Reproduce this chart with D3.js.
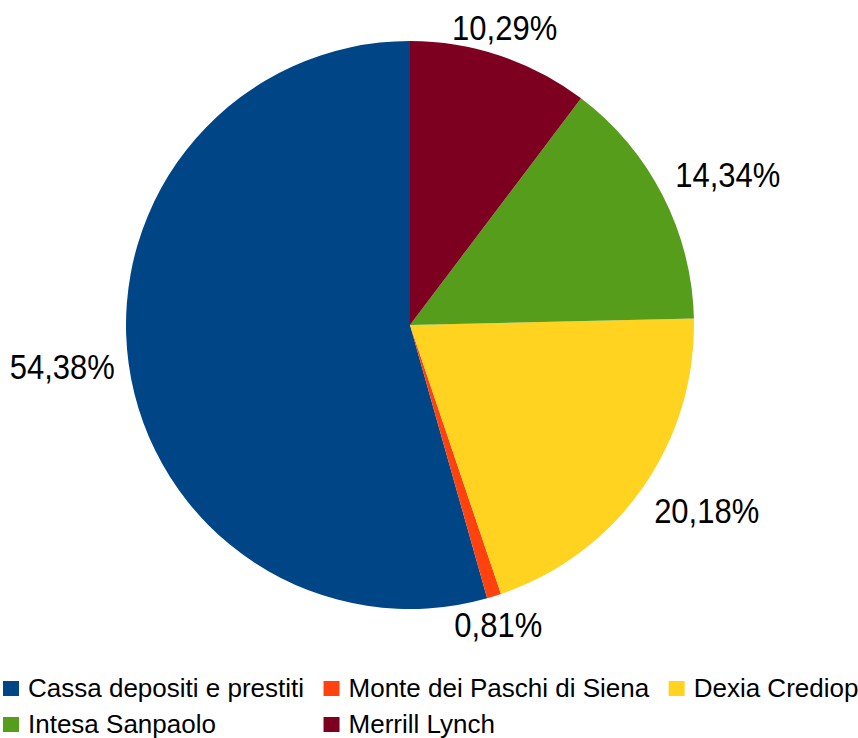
<!DOCTYPE html>
<html>
<head>
<meta charset="utf-8">
<script src="https://cdn.jsdelivr.net/npm/d3@7"></script>
<style>
  html, body { margin: 0; padding: 0; background: #fff; }
  svg { display: block; }
  text { font-family: "Liberation Sans", Arial, sans-serif; fill: #000; }
</style>
</head>
<body>
<svg id="chart" width="858" height="738"></svg>
<script>
const categories = ["Cassa depositi e prestiti", "Monte dei Paschi di Siena", "Dexia Crediop", "Intesa Sanpaolo", "Merrill Lynch"];
const values = [54.38, 0.81, 20.18, 14.34, 10.29];
const labels = ["54,38%", "0,81%", "20,18%", "14,34%", "10,29%"];
const colors = ["#004586", "#ff420e", "#ffd320", "#579d1c", "#7e0021"];

const svg = d3.select("#chart");
const cx = 410, cy = 325, r = 284;

const data = categories.map((c, i) => ({ name: c, value: values[i], label: labels[i], color: colors[i] }));

// Slices run counter-clockwise from 12 o'clock in legend order
const pie = d3.pie().sort(null).value(d => d.value)
  .startAngle(0).endAngle(-2 * Math.PI);
const arcs = pie(data);
const arc = d3.arc().innerRadius(0).outerRadius(r);

const g = svg.append("g").attr("transform", `translate(${cx},${cy})`);
g.selectAll("path.slice").data(arcs).enter().append("path")
  .attr("class", "slice")
  .attr("d", arc)
  .attr("fill", d => d.data.color);

// Labels outside, aligned by angle sector
const fs = 31, vScale = 1.12;
const capH = fs * 0.716 * vScale;
const pad = 2.5;
arcs.forEach(a => {
  const mid = (a.startAngle + a.endAngle) / 2;
  const s = Math.sin(mid), c = Math.cos(mid);
  const ax = s * (r + 14), ay = -c * (r + 14);
  let deg = 90 - mid * 180 / Math.PI;
  deg = ((deg % 360) + 360) % 360;
  let h, v;
  if (deg <= 22.5) { h = "start"; v = "middle"; }
  else if (deg < 67.5) { h = "start"; v = "bottom"; }
  else if (deg < 112.5) { h = "middle"; v = "bottom"; }
  else if (deg <= 157.5) { h = "end"; v = "bottom"; }
  else if (deg <= 202.5) { h = "end"; v = "middle"; }
  else if (deg < 247.5) { h = "end"; v = "top"; }
  else if (deg < 292.5) { h = "middle"; v = "top"; }
  else if (deg < 337.5) { h = "start"; v = "top"; }
  else { h = "start"; v = "middle"; }
  let baseline;
  if (v === "bottom") baseline = ay - pad;
  else if (v === "top") baseline = ay + capH + pad;
  else baseline = ay + capH / 2 + 1;
  g.append("text")
    .attr("font-size", fs)
    .attr("text-anchor", h)
    .attr("transform", `translate(${ax},${baseline}) scale(1,${vScale})`)
    .text(a.data.label);
});

// Legend
const lfs = 26;
const legend = svg.append("g");
const cols = 3;
const rowY = [697, 733];
const sq = 16, gapText = 9, colGap = 19.5;
const widths = categories.map(c => {
  const t = legend.append("text").attr("font-size", lfs).text(c);
  const w = t.node().getComputedTextLength();
  t.remove();
  return w;
});
const colW = [];
for (let k = 0; k < cols; k++) {
  let m = 0;
  categories.forEach((c, i) => { if (i % cols === k) m = Math.max(m, widths[i]); });
  colW.push(sq + gapText + m + colGap);
}
const colX = [3];
for (let k = 1; k < cols; k++) colX.push(colX[k - 1] + colW[k - 1]);

data.forEach((d, i) => {
  const col = i % cols, row = Math.floor(i / cols);
  const x = colX[col], by = rowY[row];
  legend.append("rect").attr("x", x).attr("y", by - 16).attr("width", sq).attr("height", 15).attr("fill", d.color);
  legend.append("text").attr("font-size", lfs).attr("x", x + sq + gapText).attr("y", by).text(d.name);
});
</script>
</body>
</html>
